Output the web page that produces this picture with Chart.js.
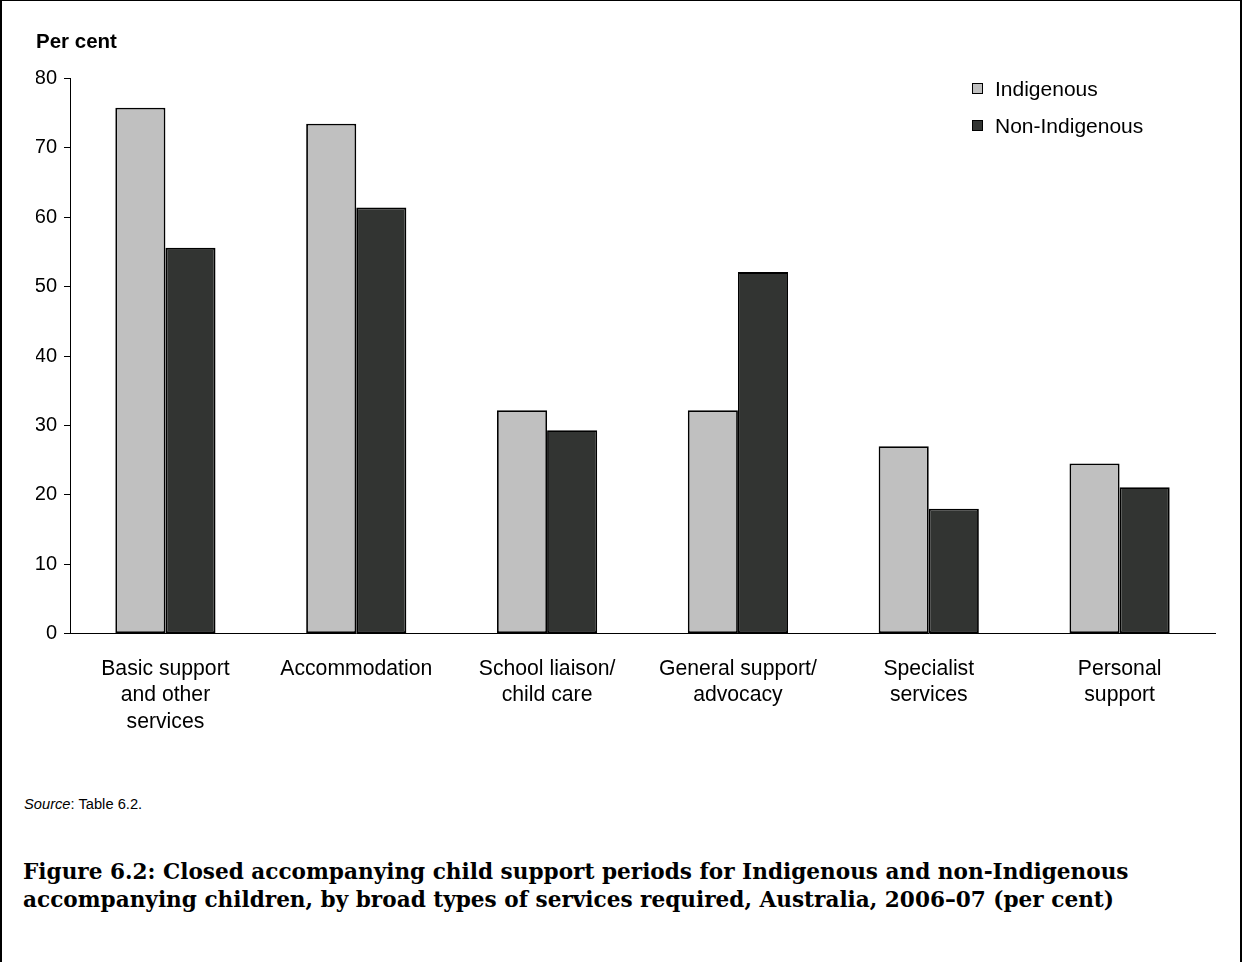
<!DOCTYPE html>
<html>
<head>
<meta charset="utf-8">
<script src="https://cdn.jsdelivr.net/npm/chart.js@4/dist/chart.umd.min.js"></script>
<style>
  html, body { margin: 0; padding: 0; background: #fff; }
  #wrap { position: relative; width: 1242px; height: 962px; box-sizing: border-box;
          border-left: 2px solid #000; border-top: 1px solid #000; border-right: 2px solid #000; overflow: hidden; }
  #cv { position: absolute; left: -2px; top: -1px; }
  #legend { position: absolute; left: 970px; top: 69px; font-family: "Liberation Sans", Arial, sans-serif; font-size: 21px; color: #000; }
  #legend .item { display: flex; align-items: center; height: 37px; }
  #legend .box { width: 9px; height: 9px; border: 1.5px solid #000; margin-right: 12px; }
  #source { position: absolute; left: 22px; top: 795px; font-family: "Liberation Sans", Arial, sans-serif; font-size: 14.7px; color: #000; }
  #caption { position: absolute; left: 21px; top: 857px; font-family: "DejaVu Serif", serif; font-weight: bold; font-size: 21.6px; line-height: 28px; color: #000; white-space: nowrap; }
</style>
</head>
<body>
<div id="wrap">
  <canvas id="cv" width="1242" height="757"></canvas>
  <div id="legend"></div>
  <div id="source"><i>Source</i>: Table 6.2.</div>
  <div id="caption">Figure 6.2: Closed accompanying child support periods for Indigenous and non-Indigenous<br>accompanying children, by broad types of services required, Australia, 2006–07 (per cent)</div>
</div>
<script>
const categories = [
  ["Basic support", "and other", "services"],
  ["Accommodation"],
  ["School liaison/", "child care"],
  ["General support/", "advocacy"],
  ["Specialist", "services"],
  ["Personal", "support"]
];
const seriesNames = ["Indigenous", "Non-Indigenous"];
const indigenous = [75.8, 73.5, 32.2, 32.2, 27.0, 24.5];
const nonIndigenous = [55.6, 61.4, 29.3, 52.1, 18.0, 21.1];
const yTicks = [0, 10, 20, 30, 40, 50, 60, 70, 80];
const colors = ["#c0c0c0", "#323432"];

const ctx = document.getElementById('cv');
const chart = new Chart(ctx, {
  type: 'bar',
  data: {
    labels: categories,
    datasets: [
      { label: seriesNames[0], data: indigenous, backgroundColor: colors[0], borderColor: '#000', borderWidth: 1.8, borderSkipped: false },
      { label: seriesNames[1], data: nonIndigenous, backgroundColor: colors[1], borderColor: '#000', borderWidth: 1.8, borderSkipped: false }
    ]
  },
  options: {
    responsive: false,
    animation: false,
    devicePixelRatio: 1,
    layout: { padding: { left: 36, right: 27, top: 22, bottom: 0 } },
    datasets: { bar: { categoryPercentage: 0.525, barPercentage: 1.0 } },
    plugins: {
      legend: { display: false },
      tooltip: { enabled: false },
      title: {
        display: true, text: 'Per cent', align: 'start', color: '#000',
        font: { family: '"Liberation Sans", Arial, sans-serif', size: 20.5, weight: 'bold' },
        padding: { top: 8, bottom: 24 }
      }
    },
    scales: {
      x: {
        grid: { display: false, drawTicks: false },
        border: { display: true, color: '#000', width: 1 },
        ticks: {
          color: '#000', padding: 22, maxRotation: 0, autoSkip: false,
          font: { family: '"Liberation Sans", Arial, sans-serif', size: 21.2, lineHeight: 1.25 }
        }
      },
      y: {
        min: 0, max: 80,
        afterBuildTicks: (axis) => { axis.ticks = yTicks.map(v => ({ value: v })); },
        afterFit: (axis) => { axis.width = 34; },
        grid: { display: true, drawOnChartArea: false, drawTicks: true, tickLength: 6, color: '#000', tickWidth: 1 },
        border: { display: true, color: '#000', width: 1 },
        ticks: {
          color: '#000', padding: 7,
          font: { family: '"Liberation Sans", Arial, sans-serif', size: 20 }
        }
      }
    }
  }
});

const leg = document.getElementById('legend');
chart.data.datasets.forEach(ds => {
  const it = document.createElement('div');
  it.className = 'item';
  const b = document.createElement('span');
  b.className = 'box';
  b.style.background = ds.backgroundColor;
  const t = document.createElement('span');
  t.textContent = ds.label;
  it.appendChild(b); it.appendChild(t);
  leg.appendChild(it);
});
</script>
</body>
</html>
